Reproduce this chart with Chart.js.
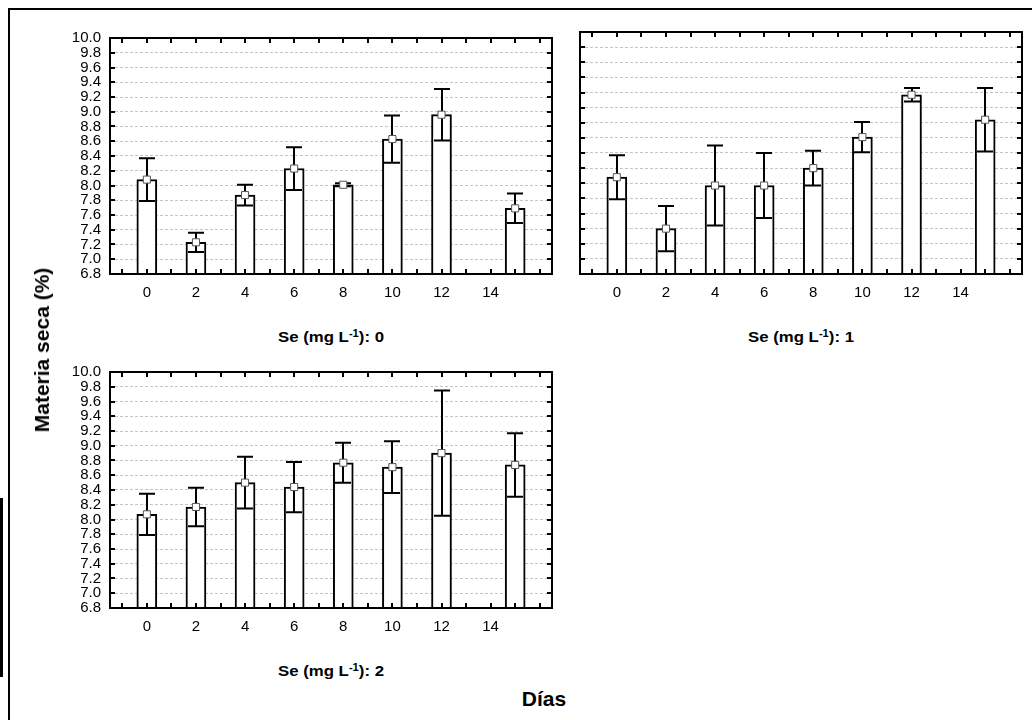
<!DOCTYPE html>
<html>
<head>
<meta charset="utf-8">
<script src="https://cdn.jsdelivr.net/npm/chart.js@4.4.1/dist/chart.umd.min.js"></script>
<style>
    body { margin: 0; background: #fff; }
    #page { position: relative; width: 1032px; height: 720px; overflow: hidden;
            font-family: "Liberation Sans", Arial, sans-serif; color: #000; }
    .marco { position: absolute; left: 8px; top: 8px; width: 1100px; height: 800px;
             border-left: 2px solid #000; border-top: 2px solid #000; }
    .borde { position: absolute; left: 0; top: 498px; width: 3px; height: 179px; background: #000; }
    canvas { position: absolute; }
    .txt { position: absolute; font-weight: bold; white-space: nowrap; transform: translate(-50%, -50%); }
    .cap { font-size: 15px; transform: translate(-50%, -50%) scaleX(1.12); }
    .cap sup { font-size: 10px; vertical-align: 5px; line-height: 0; }
    .titulo { font-size: 21px; }
    .ytitulo { font-size: 21px; transform: translate(-50%, -50%) rotate(-90deg); }
</style>
</head>
<body>
<div id="page">
    <div class="marco"></div>
    <div class="borde"></div>
    <canvas id="chart0" width="530" height="300" style="left:40px;top:20px"></canvas>
    <canvas id="chart1" width="512" height="300" style="left:520px;top:20px"></canvas>
    <canvas id="chart2" width="530" height="300" style="left:40px;top:354px"></canvas>
    <div class="txt cap" style="left:331px;top:336px">Se (mg L<sup>-1</sup>): 0</div>
    <div class="txt cap" style="left:801px;top:336px">Se (mg L<sup>-1</sup>): 1</div>
    <div class="txt cap" style="left:331px;top:670px">Se (mg L<sup>-1</sup>): 2</div>
    <div class="txt titulo" style="left:544px;top:699px">Días</div>
    <div class="txt ytitulo" style="left:42px;top:350px">Materia seca (%)</div>
</div>
<script>
// dias de muestreo (la ultima barra cae despues de la etiqueta 14)
const dias = [0, 2, 4, 6, 8, 10, 12, 15];
const xLabels = [0, 2, 4, 6, 8, 10, 12, 14];
const yMin = 6.8;
const yMax = 10.0;
const yPaso = 0.2;

// materia seca media y error por dosis de Se
const media0 = [8.08, 7.23, 7.87, 8.23, 8.01, 8.63, 8.96, 7.69];
const error0 = [0.29, 0.13, 0.14, 0.29, 0.02, 0.32, 0.35, 0.20];
const media1 = [8.08, 7.40, 7.97, 7.97, 8.20, 8.61, 9.17, 8.84];
const error1 = [0.29, 0.30, 0.53, 0.43, 0.23, 0.20, 0.09, 0.42];
const media2 = [8.07, 8.17, 8.50, 8.44, 8.77, 8.71, 8.90, 8.74];
const error2 = [0.28, 0.26, 0.35, 0.34, 0.27, 0.35, 0.85, 0.43];

// barras de error y marco con marcas hacia adentro
const marcoPlugin = {
    id: 'marco',
    afterDatasetDraw(chart, args) {
        if (args.meta.type !== 'bar') return;
        let ctx = chart.ctx;
        let sx = chart.scales.x, sy = chart.scales.y;
        let ds = chart.data.datasets[args.index];
        ctx.save();
        ctx.strokeStyle = '#000';
        ctx.lineWidth = 2;
        ds.data.forEach(function (p, i) {
            let px = Math.round(sx.getPixelForValue(p.x));
            let top = sy.getPixelForValue(p.y + ds.errores[i]);
            let bot = sy.getPixelForValue(p.y - ds.errores[i]);
            ctx.beginPath();
            ctx.moveTo(px, top); ctx.lineTo(px, bot);
            ctx.moveTo(px - 8, top); ctx.lineTo(px + 8, top);
            ctx.moveTo(px - 8, bot); ctx.lineTo(px + 8, bot);
            ctx.stroke();
        });
        ctx.restore();
    },
    afterDraw(chart) {
        let ctx = chart.ctx;
        let a = chart.chartArea;
        let sx = chart.scales.x, sy = chart.scales.y;
        ctx.save();
        ctx.strokeStyle = '#000';
        ctx.lineWidth = 2;
        ctx.strokeRect(a.left, a.top, a.right - a.left, a.bottom - a.top);
        ctx.beginPath();
        sy.ticks.forEach(function (t) {
            let py = Math.round(sy.getPixelForValue(t.value));
            ctx.moveTo(a.left, py); ctx.lineTo(a.left + 5, py);
            ctx.moveTo(a.right, py); ctx.lineTo(a.right - 5, py);
        });
        sx.ticks.forEach(function (t) {
            let px = Math.round(sx.getPixelForValue(t.value));
            ctx.moveTo(px, a.top); ctx.lineTo(px, a.top + 5);
            ctx.moveTo(px, a.bottom); ctx.lineTo(px, a.bottom - 5);
        });
        ctx.stroke();
        ctx.restore();
    }
};

function crearPanel(id, medias, errores, conEtiquetasY) {
    let puntos = dias.map(function (d, i) { return { x: d, y: medias[i] }; });
    let anchoY = conEtiquetasY ? 70 : 60;
    let padDer = conEtiquetasY ? 18 : 10;

    return new Chart(document.getElementById(id), {
        type: 'bar',
        data: {
            datasets: [
                {
                    type: 'scatter',
                    data: puntos,
                    pointStyle: 'rect',
                    pointRadius: 5,
                    pointBackgroundColor: '#fff',
                    pointBorderColor: '#555',
                    pointBorderWidth: 1,
                    order: 1
                },
                {
                    type: 'bar',
                    data: puntos,
                    errores: errores,
                    base: yMin,
                    backgroundColor: '#fff',
                    borderColor: '#000',
                    borderWidth: 2,
                    barThickness: 20,
                    order: 2
                }
            ]
        },
        options: {
            responsive: false,
            animation: false,
            layout: { padding: { left: 0, top: 12, right: padDer, bottom: 0 } },
            plugins: { legend: { display: false }, tooltip: { enabled: false } },
            scales: {
                x: {
                    type: 'linear',
                    min: -1.5,
                    max: 16.5,
                    offset: false,
                    afterBuildTicks: function (s) {
                        s.ticks = [];
                        for (let d = -1; d <= 16; d++) s.ticks.push({ value: d });
                    },
                    afterFit: function (s) { s.height = 46; },
                    grid: { display: false, drawTicks: false },
                    border: { display: false },
                    ticks: {
                        autoSkip: false,
                        maxRotation: 0,
                        padding: 10,
                        color: '#000',
                        font: { family: 'Liberation Sans', size: 15 },
                        callback: function (v) { return xLabels.includes(v) ? String(v) : ''; }
                    }
                },
                y: {
                    min: yMin,
                    max: yMax,
                    afterFit: function (s) { s.width = anchoY; },
                    grid: { color: '#c4c4c4', lineWidth: 1, drawTicks: false },
                    border: { display: false, dash: [3, 2] },
                    ticks: {
                        stepSize: yPaso,
                        autoSkip: false,
                        display: conEtiquetasY,
                        padding: 9,
                        color: '#000',
                        font: { family: 'Liberation Sans', size: 15 },
                        callback: function (v) { return v.toFixed(1); }
                    }
                }
            }
        },
        plugins: [marcoPlugin]
    });
}

crearPanel('chart0', media0, error0, true);
crearPanel('chart1', media1, error1, false);
crearPanel('chart2', media2, error2, true);
</script>
</body>
</html>
